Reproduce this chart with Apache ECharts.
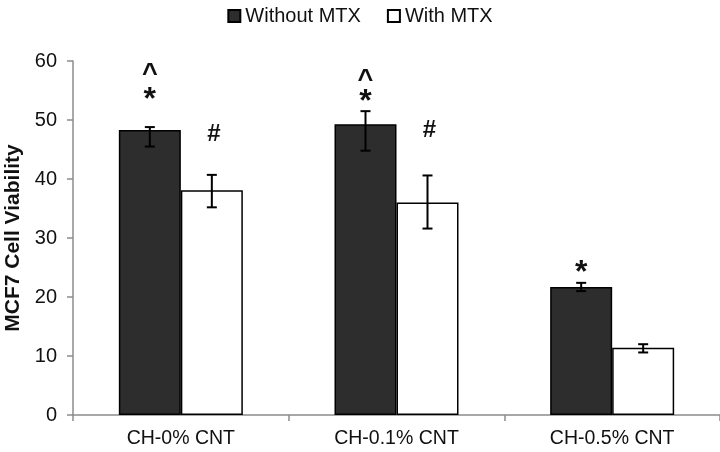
<!DOCTYPE html>
<html>
<head>
<meta charset="utf-8">
<script src="https://cdn.jsdelivr.net/npm/echarts@6/dist/echarts.min.js"></script>
<style>html,body{margin:0;padding:0;background:#fff}#c{width:720px;height:452px}</style>
</head>
<body>
<div id="c"></div>
<script>
const categories = ['CH-0% CNT', 'CH-0.1% CNT', 'CH-0.5% CNT'];
const seriesNames = ['Without MTX', 'With MTX'];
const withoutMTX = [48.3, 49.3, 21.7];
const withMTX = [38.1, 36.0, 11.4];
const withoutErrLow = [45.5, 44.8, 21.0];
const withoutErrHigh = [48.8, 51.5, 22.4];
const withErrLow = [35.2, 31.6, 10.6];
const withErrHigh = [40.7, 40.6, 12.0];
const starMarks = ['*', '*', '*'];
const starY = [54.6, 54.2, 25.3];
const caretMarks = ['^', '^', ''];
const caretY = [58.4, 57.4, 0];
const hashMarks = ['#', '#', ''];
const hashY = [47.5, 48.2, 0];
const yTicks = [0, 10, 20, 30, 40, 50, 60];

const FONT = 'Liberation Sans, Arial, sans-serif';
const BAR_W = 62;

function errSeries(low, high, side) {
  return {
    type: 'custom',
    silent: true,
    z: 5,
    data: low.map((l, i) => [i, l, high[i]]),
    renderItem: function (params, api) {
      const x = api.coord([api.value(0), 0])[0] + side * BAR_W / 2;
      const yl = api.coord([api.value(0), api.value(1)])[1];
      const yh = api.coord([api.value(0), api.value(2)])[1];
      const cap = 5;
      const st = { stroke: '#000', lineWidth: 2 };
      return {
        type: 'group',
        children: [
          { type: 'line', shape: { x1: x, y1: yl, x2: x, y2: yh }, style: st },
          { type: 'line', shape: { x1: x - cap, y1: yl, x2: x + cap, y2: yl }, style: st },
          { type: 'line', shape: { x1: x - cap, y1: yh, x2: x + cap, y2: yh }, style: st }
        ]
      };
    }
  };
}

function markSeries(marks, ys, side, fontSize, dy, dx) {
  return {
    type: 'custom',
    silent: true,
    z: 6,
    data: marks.map((m, i) => [i, ys[i], m]),
    renderItem: function (params, api) {
      const txt = marks[params.dataIndex];
      if (!txt) return null;
      const p = api.coord([api.value(0), api.value(1)]);
      return {
        type: 'text',
        x: p[0] + side * BAR_W / 2 + dx,
        y: p[1] + dy,
        style: {
          text: txt,
          fontFamily: FONT,
          fontSize: fontSize,
          fontWeight: 'bold',
          fill: '#111',
          align: 'center',
          verticalAlign: 'middle'
        }
      };
    }
  };
}

const chart = echarts.init(document.getElementById('c'), null, { renderer: 'canvas' });
chart.setOption({
  animation: false,
  backgroundColor: '#fff',
  textStyle: { fontFamily: FONT },
  legend: {
    top: 1,
    left: 'center',
    itemWidth: 12,
    itemHeight: 12,
    itemGap: 26,
    icon: 'rect',
    textStyle: { fontFamily: FONT, fontSize: 20, color: '#111' },
    data: seriesNames
  },
  grid: { left: 73, right: 0, top: 61, bottom: 37, containLabel: false, outerBoundsMode: 'none' },
  xAxis: {
    type: 'category',
    data: categories,
    axisLine: { lineStyle: { color: '#8c8c8c', width: 1.5 } },
    axisTick: { show: true, length: 6, lineStyle: { color: '#8c8c8c', width: 1.5 } },
    axisLabel: { fontFamily: FONT, fontSize: 19.5, color: '#111', margin: 14 }
  },
  yAxis: {
    type: 'value',
    min: 0,
    max: 60,
    interval: 10,
    name: 'MCF7 Cell Viability',
    nameLocation: 'middle',
    nameGap: 47,
    nameTextStyle: { fontFamily: FONT, fontSize: 21, fontWeight: 'bold', color: '#111' },
    axisLine: { show: true, lineStyle: { color: '#8c8c8c', width: 1.5 } },
    axisTick: { show: true, length: 6, lineStyle: { color: '#8c8c8c', width: 1.5 } },
    splitLine: { show: false },
    axisLabel: {
      fontFamily: FONT, fontSize: 20, color: '#111', margin: 16,
      formatter: v => yTicks.includes(v) ? String(v) : ''
    }
  },
  series: [
    {
      name: seriesNames[0],
      type: 'bar',
      data: withoutMTX,
      barWidth: BAR_W,
      barGap: '0%',
      itemStyle: { color: '#2d2d2d', borderColor: '#000', borderWidth: 1.5 }
    },
    {
      name: seriesNames[1],
      type: 'bar',
      data: withMTX,
      barWidth: BAR_W,
      barGap: '0%',
      itemStyle: { color: '#ffffff', borderColor: '#000', borderWidth: 1.5 }
    },
    errSeries(withoutErrLow, withoutErrHigh, -1),
    errSeries(withErrLow, withErrHigh, 1),
    markSeries(starMarks, starY, -1, 32, 7, 0),
    markSeries(caretMarks, caretY, -1, 27, 4, 0),
    markSeries(hashMarks, hashY, 1, 24, 0, 2)
  ]
});
</script>
</body>
</html>
